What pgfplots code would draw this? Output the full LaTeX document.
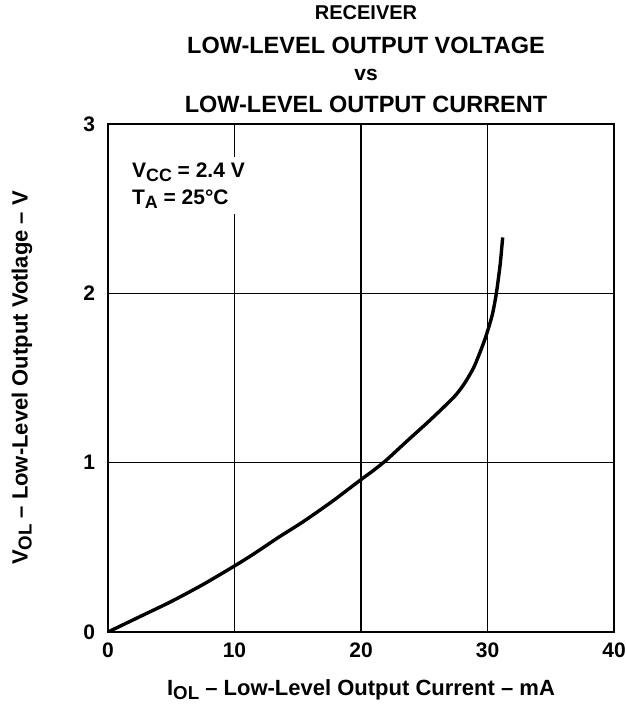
\documentclass[border=0pt]{standalone}
\usepackage{fontspec}
\setmainfont{Liberation Sans}
\usepackage{pgfplots}
\pgfplotsset{compat=1.18}
\newcommand\sub[1]{\raisebox{-0.35ex}{\scalebox{0.85}{#1}}}
\begin{document}
\begin{tikzpicture}
\useasboundingbox (-54pt,-36pt) rectangle (258.5pt,316pt);
\begin{axis}[
  scale only axis, width=253pt, height=254pt,
  xmin=0, xmax=40, ymin=0, ymax=3,
  xtick={0,10,20,30,40}, xticklabels={0,10,20,30,40},
  ytick={0,1,2,3}, yticklabels={0,1,2,3},
  major tick length=0pt,
  grid=major, grid style={black, line width=0.55pt},
  axis line style={line width=1pt},
  tick label style={font=\fontsize{10.5}{12}\selectfont\bfseries},
  xticklabel style={yshift=-2pt},
  yticklabel style={xshift=-3pt},
]
\addplot[black, line width=1.7pt, smooth, tension=0.4] coordinates {
  (0,0) (2.5,0.09) (5,0.18) (7.5,0.28) (10,0.39) (11.5,0.46) (13.5,0.56)
  (15.4,0.65) (17.7,0.77) (20,0.90) (21,0.955) (22,1.015) (23.6,1.125) (25.3,1.24)
  (26.5,1.325) (27.5,1.40) (28.2,1.47) (28.9,1.56) (29.4,1.65) (29.8,1.73)
  (30.1,1.80) (30.4,1.88) (30.7,2.0) (31.0,2.17) (31.2,2.33)
};
\node[fill=white, anchor=north west, align=left, inner sep=3pt,
      font=\fontsize{10.5}{13.5}\selectfont\bfseries] at (axis cs:1.4,2.81)
  {V\sub{CC} = 2.4 V\\T\sub{A} = 25°C};
\end{axis}
\node[font=\fontsize{10}{12}\selectfont\bfseries] at (129pt,309.5pt) {RECEIVER};
\node[font=\fontsize{11.75}{14}\selectfont\bfseries] at (129pt,293.5pt) {LOW-LEVEL OUTPUT VOLTAGE};
\node[font=\fontsize{10.5}{12}\selectfont\bfseries] at (129pt,278.5pt) {vs};
\node[font=\fontsize{11.75}{14}\selectfont\bfseries] at (129pt,264pt) {LOW-LEVEL OUTPUT CURRENT};
\node[font=\fontsize{11}{13}\selectfont\bfseries] at (126.5pt,-29pt)
  {I\sub{OL} – Low-Level Output Current – mA};
\node[rotate=90, font=\fontsize{11}{13}\selectfont\bfseries] at (-43pt,127pt)
  {V\sub{OL} – Low-Level Output Votlage – V};
\end{tikzpicture}
\end{document}
